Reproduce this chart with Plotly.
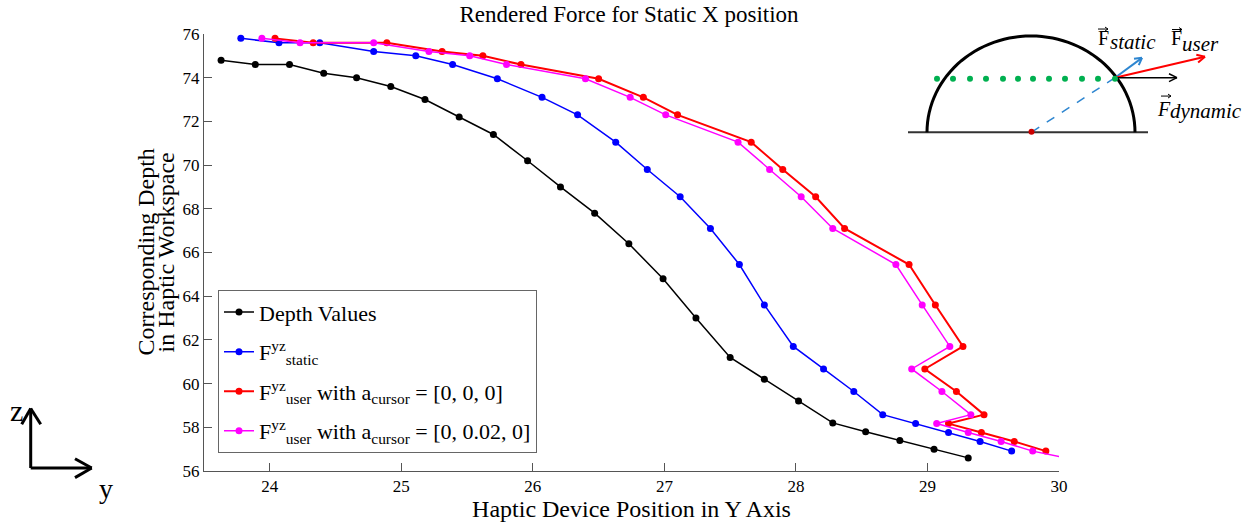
import math
import plotly.graph_objects as go

# ---------------- data ----------------
depth_x = [23.63, 23.89, 24.15, 24.41, 24.66, 24.92, 25.18, 25.44, 25.70, 25.96, 26.21, 26.47,
           26.73, 26.99, 27.24, 27.50, 27.76, 28.02, 28.28, 28.53, 28.79, 29.05, 29.31]
depth_y = [74.8, 74.6, 74.6, 74.2, 74.0, 73.6, 73.0, 72.2, 71.4, 70.2, 69.0, 67.8,
           66.4, 64.8, 63.0, 61.2, 60.2, 59.2, 58.2, 57.8, 57.4, 57.0, 56.6]

static_x = [23.78, 24.07, 24.38, 24.79, 25.11, 25.39, 25.73, 26.07, 26.34, 26.63, 26.87, 27.12,
            27.35, 27.57, 27.76, 27.98, 28.21, 28.44, 28.66, 28.91, 29.16, 29.40, 29.64]
static_y = [75.8, 75.6, 75.6, 75.2, 75.0, 74.6, 73.95, 73.1, 72.3, 71.05, 69.8, 68.55,
            67.1, 65.45, 63.6, 61.7, 60.67, 59.64, 58.58, 58.17, 57.76, 57.35, 56.91]

user0_x = [24.04, 24.33, 24.89, 25.31, 25.62, 25.91, 26.50, 26.84, 27.10, 27.66, 27.90, 28.15,
           28.37, 28.86, 29.06, 29.27, 28.98, 29.22, 29.43, 29.16, 29.41, 29.66, 29.90]
user0_y = [75.8, 75.6, 75.6, 75.2, 75.0, 74.6, 73.95, 73.1, 72.3, 71.05, 69.8, 68.55,
           67.1, 65.45, 63.6, 61.7, 60.67, 59.64, 58.58, 58.17, 57.76, 57.35, 56.91]

user002_x = [23.94, 24.23, 24.79, 25.21, 25.52, 25.80, 26.40, 26.74, 27.01, 27.56, 27.80, 28.04,
             28.28, 28.76, 28.96, 29.17, 28.88, 29.11, 29.33, 29.07, 29.31, 29.56, 29.80, 30.05]
user002_y = [75.8, 75.6, 75.6, 75.2, 75.0, 74.6, 73.95, 73.1, 72.3, 71.05, 69.8, 68.55,
             67.1, 65.45, 63.6, 61.7, 60.67, 59.64, 58.58, 58.17, 57.76, 57.35, 56.91, 56.6]

x_ticks = [24, 25, 26, 27, 28, 29, 30]
y_ticks = [56, 58, 60, 62, 64, 66, 68, 70, 72, 74, 76]

series_names = [
    "Depth Values",
    "F<sup>yz</sup><sub>static</sub>",
    "F<sup>yz</sup><sub>user</sub> with a<sub>cursor</sub> = [0, 0, 0]",
    "F<sup>yz</sup><sub>user</sub> with a<sub>cursor</sub> = [0, 0.02, 0]",
]
series_colors = ["#000000", "#0000FF", "#FF0000", "#FF00FF"]

title_text = "Rendered Force for Static X position"
x_title = "Haptic Device Position in Y Axis"
y_title_lines = ["Corresponding Depth", "in Haptic Workspace"]

FONT = "Liberation Serif"

# ---------------- layout geometry ----------------
W, H = 1254, 525
L, R, T, B = 204, 1059, 34, 474


def px(x):
    return (x - L) / (R - L)


def py(y):
    return (B - y) / (B - T)


fig = go.Figure()
all_x = [depth_x, static_x, user0_x, user002_x]
all_y = [depth_y, static_y, user0_y, user002_y]
widths = [1.5, 1.5, 2, 1.5]
for i in range(4):
    fig.add_trace(go.Scatter(
        x=all_x[i], y=all_y[i], mode="lines+markers", name=series_names[i],
        legendgroup=str(i),
        line=dict(color=series_colors[i], width=widths[i]),
        marker=dict(color=series_colors[i], size=7),
    ))

shapes = []
annotations = []


def seg(x0, y0, x1, y1, color, width, dash="solid"):
    shapes.append(dict(type="line", xref="paper", yref="paper",
                       x0=px(x0), y0=py(y0), x1=px(x1), y1=py(y1),
                       line=dict(color=color, width=width, dash=dash)))


def arrow(x0, y0, x1, y1, color, width, head=8, spread=5):
    seg(x0, y0, x1, y1, color, width)
    dx, dy = x1 - x0, y1 - y0
    d = math.hypot(dx, dy)
    ux, uy = dx / d, dy / d
    bx, by = x1 - ux * head, y1 - uy * head
    nx, ny = -uy, ux
    seg(bx + nx * spread, by + ny * spread, x1, y1, color, width)
    seg(bx - nx * spread, by - ny * spread, x1, y1, color, width)


def text(x, y, s, size, italic=False, angle=0):
    if italic:
        s = "<i>" + s + "</i>"
    annotations.append(dict(xref="paper", yref="paper", x=px(x), y=py(y), text=s,
                            showarrow=False, xanchor="center", yanchor="middle",
                            textangle=angle,
                            font=dict(family=FONT, size=size, color="black")))


# ---- inset diagram (top right) ----
seg(908, 133, 1148, 133, "#333333", 2)
cx, cy, rx, ry = 1031, 133, 104, 97
pts = []
for k in range(0, 61):
    a = math.pi * k / 60
    pts.append((cx + rx * math.cos(a), cy - ry * math.sin(a)))
path = "M " + " L ".join(f"{px(a):.5f},{py(b):.5f}" for a, b in pts)
shapes.append(dict(type="path", xref="paper", yref="paper", path=path,
                   line=dict(color="black", width=3)))
contact = (1115, 78)
seg(1031.7, 132.7, contact[0], contact[1], "#2E86D0", 1.5, dash="dash")
arrow(contact[0], contact[1], 1142, 58, "#2E86D0", 2, head=7, spread=4)
arrow(contact[0], contact[1], 1205, 57, "#FF0000", 2, head=8, spread=4)
arrow(contact[0], contact[1], 1177, 78, "#000000", 1.5, head=8, spread=4)
dot_xs = [937, 953, 970, 986, 1003, 1018, 1033, 1049, 1065, 1082, 1098, 1115]
for dx_ in dot_xs:
    r = 3
    shapes.append(dict(type="circle", xref="paper", yref="paper",
                       x0=px(dx_ - r), x1=px(dx_ + r), y0=py(79 - r), y1=py(79 + r),
                       fillcolor="#00B050", line=dict(width=0)))
shapes.append(dict(type="circle", xref="paper", yref="paper",
                   x0=px(1028.5), x1=px(1034.5), y0=py(129.5), y1=py(135.5),
                   fillcolor="#CC0000", line=dict(width=0)))

# vector labels: F with small arrow above + italic subscript word
text(1103, 37.6, "F", 20)
text(1133, 42, "static", 21, italic=True)
arrow(1098, 29, 1108, 29, "black", 1, head=3, spread=2)
text(1176, 38.3, "F", 20)
text(1200, 44.4, "user", 21, italic=True)
arrow(1172, 29.5, 1182, 29.5, "black", 1, head=3, spread=2)
text(1164, 110, "F", 20, italic=True)
text(1206, 111.4, "dynamic", 21, italic=True)
arrow(1161, 96.5, 1171, 96.5, "black", 1, head=3, spread=2)

# ---- z / y frame icon (bottom left) ----
seg(30.7, 471, 30.7, 411, "black", 3)
seg(21.7, 427, 30.7, 411, "black", 3)
seg(40.7, 427, 30.7, 411, "black", 3)
seg(30.7, 471, 91.7, 471, "black", 3)
seg(75, 461.7, 91.7, 471, "black", 3)
seg(75, 480.7, 91.7, 471, "black", 3)
text(16.5, 413, "z", 30)
text(105.5, 491.5, "y", 28)

# ---- y-axis title as two rotated lines ----
text(145, 254, y_title_lines[0], 24, angle=-90)
text(165, 254, y_title_lines[1], 24, angle=-90)

axis_common = dict(showline=True, linecolor="#555555", linewidth=1, ticks="inside",
                   ticklen=8, tickcolor="#555555", showgrid=False, zeroline=False,
                   tickfont=dict(family=FONT, size=17, color="black"))

fig.update_layout(
    width=W, height=H,
    margin=dict(l=L, r=W - R, t=T, b=H - B),
    paper_bgcolor="white", plot_bgcolor="white",
    font=dict(family=FONT, size=17, color="black"),
    title=dict(text=title_text, x=px(629), xref="paper", xanchor="center",
               y=1 - 14 / H, yanchor="middle",
               font=dict(family=FONT, size=23, color="black")),
    xaxis=dict(range=[23.5, 30], tickvals=x_ticks,
               title=dict(text=x_title, standoff=0,
                          font=dict(family=FONT, size=24, color="black")),
               **axis_common),
    yaxis=dict(range=[56, 76], tickvals=y_ticks, **axis_common),
    legend=dict(x=px(218), y=py(292), xanchor="left", yanchor="top",
                bordercolor="#666666", borderwidth=1, bgcolor="white",
                font=dict(family=FONT, size=22, color="black"),
                tracegroupgap=8, itemwidth=30),
    shapes=shapes,
    annotations=annotations,
)

fig.write_html("out.html")
